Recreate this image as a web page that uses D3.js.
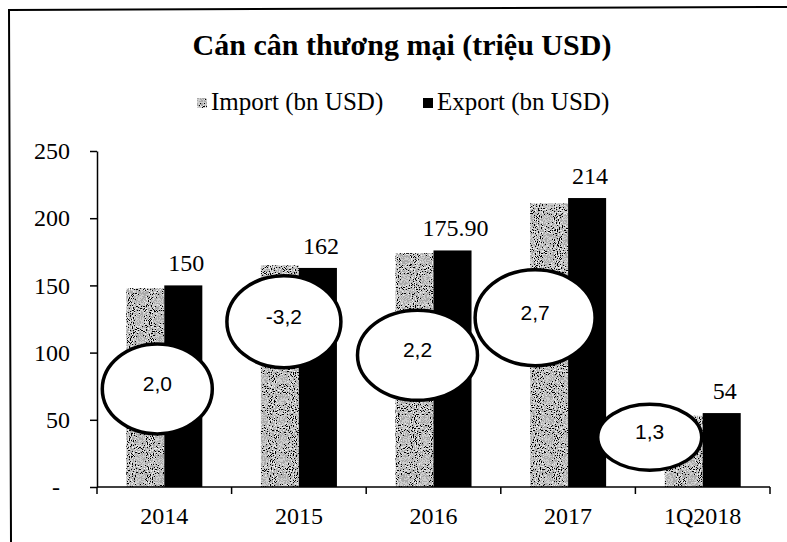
<!DOCTYPE html>
<html>
<head>
<meta charset="utf-8">
<script src="https://cdn.jsdelivr.net/npm/d3@7"></script>
<style>
  body { margin: 0; background: #fff; }
</style>
</head>
<body>
<div id="main"></div>
<script>
const layout = {
    width: 787,
    height: 542,
    left: 97,
    right: 770,
    top: 151,
    bottom: 487
};
const serif = "'Liberation Serif', 'Times New Roman', serif";
const sans = "'Liberation Sans', Arial, sans-serif";

// data
const categories = ["2014", "2015", "2016", "2017", "1Q2018"];
const importVals = [148, 165, 174, 211, 53];
const exportVals = [150, 163, 176, 215, 55];
const exportLabels = ["150", "162", "175.90", "214", "54"];
const balanceLabels = ["2,0", "-3,2", "2,2", "2,7", "1,3"];
const yTicks = [0, 50, 100, 150, 200, 250];
const seriesNames = ["Import (bn USD)", "Export (bn USD)"];

// hand-drawn ellipses: offset from group centre (px), centre height (data units), radii (px)
const callouts = [
    { dx: -7,  at: 73,  rx: 55, ry: 45 },
    { dx: -15, at: 123, rx: 57, ry: 46 },
    { dx: -16, at: 98,  rx: 60, ry: 45 },
    { dx: -33, at: 126, rx: 60, ry: 48 },
    { dx: -53, at: 37,  rx: 52, ry: 33 }
];

const svg = d3.select("#main").append("svg")
    .attr("width", layout.width)
    .attr("height", layout.height)
    .style("font-family", serif);

// stippled texture for import bars
const defs = svg.append("defs");
const filt = defs.append("filter").attr("id", "stipple")
    .attr("x", 0).attr("y", 0).attr("width", 1).attr("height", 1);
filt.append("feTurbulence").attr("type", "fractalNoise")
    .attr("baseFrequency", 0.95).attr("numOctaves", 1).attr("seed", 4).attr("result", "n");
filt.append("feColorMatrix").attr("in", "n").attr("type", "matrix")
    .attr("values", "1 0 0 0 0 1 0 0 0 0 1 0 0 0 0 0 0 0 0 1")
    .attr("result", "g");
const ct = filt.append("feComponentTransfer").attr("in", "g").attr("result", "d");
["feFuncR", "feFuncG", "feFuncB"].forEach(f => {
    ct.append(f).attr("type", "discrete").attr("tableValues", "0 0 0 0.4 0.62 0.85 1 1");
});
filt.append("feComposite").attr("in", "d").attr("in2", "SourceGraphic").attr("operator", "in");

// frame
svg.append("path")
    .attr("d", "M11,542 L9,10 L787,7")
    .attr("fill", "none").attr("stroke", "#000").attr("stroke-width", 2);

// title + legend
svg.append("text")
    .attr("x", 402).attr("y", 55)
    .attr("text-anchor", "middle")
    .attr("font-size", 30).attr("font-weight", "bold")
    .style("font-family", serif)
    .text("Cán cân thương mại (triệu USD)");

const legendX = [197, 423];
seriesNames.forEach((name, i) => {
    svg.append("rect")
        .attr("x", legendX[i]).attr("y", 98).attr("width", 10).attr("height", 10)
        .attr("fill", "#000")
        .attr("filter", i == 0 ? "url(#stipple)" : null);
    svg.append("text")
        .attr("x", legendX[i] + 14).attr("y", 110)
        .attr("font-size", 25)
        .style("font-family", serif)
        .text(name);
});

// scales
const x0 = d3.scaleBand()
    .domain(categories)
    .range([layout.left, layout.right])
    .paddingInner(0.435)
    .paddingOuter(0.2175);
const x1 = d3.scaleBand()
    .domain([0, 1])
    .range([0, x0.bandwidth()]);
const y = d3.scaleLinear()
    .domain([0, 250])
    .range([layout.bottom, layout.top]);

// y axis
const yAxis = svg.append("g")
    .attr("transform", `translate(${layout.left},0)`)
    .call(d3.axisLeft(y).tickValues(yTicks).tickSize(7).tickSizeOuter(0).tickPadding(20)
        .tickFormat(d => d == 0 ? "-" : d));
yAxis.selectAll("text").attr("font-size", 24).attr("fill", "#000")
    .style("font-family", serif);
yAxis.selectAll("text").filter(d => d == 0).attr("dx", -10);
yAxis.selectAll("line, .domain").attr("stroke", "#000").attr("stroke-width", 1.5);

// bars
const groups = svg.append("g").selectAll("g")
    .data(categories)
    .enter().append("g")
    .attr("transform", d => `translate(${x0(d)},0)`);

groups.append("rect")
    .attr("x", x1(0))
    .attr("y", (d, i) => y(importVals[i]))
    .attr("width", x1.bandwidth())
    .attr("height", (d, i) => y(0) - y(importVals[i]))
    .attr("fill", "#000")
    .attr("filter", "url(#stipple)");

groups.append("rect")
    .attr("x", x1(1))
    .attr("y", (d, i) => y(exportVals[i]))
    .attr("width", x1.bandwidth())
    .attr("height", (d, i) => y(0) - y(exportVals[i]))
    .attr("fill", "#000");

groups.append("text")
    .attr("x", x1(1) + x1.bandwidth() / 2 + 3)
    .attr("y", (d, i) => y(exportVals[i]) - 14)
    .attr("text-anchor", "middle")
    .attr("font-size", 24)
    .style("font-family", serif)
    .text((d, i) => exportLabels[i]);

// x axis: baseline, boundary ticks, labels
const step = x0.step();
const edges = d3.range(categories.length + 1).map(i => layout.left + i * step);
svg.append("line")
    .attr("x1", layout.left).attr("x2", layout.right)
    .attr("y1", y(0)).attr("y2", y(0))
    .attr("stroke", "#000").attr("stroke-width", 1.5);
svg.append("g").selectAll("line")
    .data(edges)
    .enter().append("line")
    .attr("x1", d => d).attr("x2", d => d)
    .attr("y1", y(0)).attr("y2", y(0) + 7)
    .attr("stroke", "#000").attr("stroke-width", 1.5);

const xAxis = svg.append("g")
    .attr("transform", `translate(0,${y(0)})`)
    .call(d3.axisBottom(x0).tickSize(0).tickPadding(20));
xAxis.select(".domain").remove();
xAxis.selectAll("text").attr("font-size", 24).attr("fill", "#000")
    .style("font-family", serif);

// balance callouts
const notes = svg.append("g").selectAll("g")
    .data(categories)
    .enter().append("g")
    .attr("transform", (d, i) =>
        `translate(${x0(d) + x0.bandwidth() / 2 + callouts[i].dx},${y(callouts[i].at)})`);
notes.append("ellipse")
    .attr("rx", (d, i) => callouts[i].rx)
    .attr("ry", (d, i) => callouts[i].ry)
    .attr("fill", "#fff")
    .attr("stroke", "#000")
    .attr("stroke-width", 3.5);
notes.append("text")
    .attr("text-anchor", "middle")
    .attr("dy", "0.1em")
    .attr("font-size", 21)
    .style("font-family", sans)
    .text((d, i) => balanceLabels[i]);
</script>
</body>
</html>
